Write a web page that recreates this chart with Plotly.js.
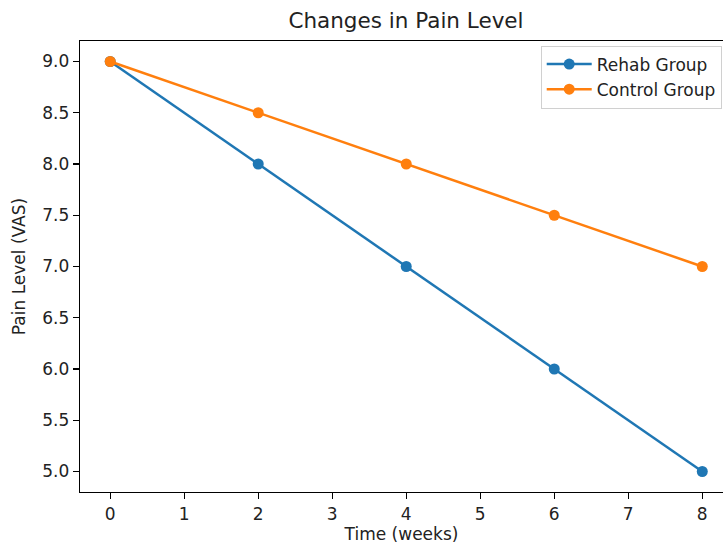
<!DOCTYPE html>
<html>
<head>
<meta charset="utf-8">
<script src="https://cdn.plot.ly/plotly-3.0.1.min.js"></script>
<style>html,body{margin:0;padding:0;background:#fff;}#chart{width:723px;height:544px;}</style>
</head>
<body>
<div id="chart"></div>
<script>
const weeks = [0, 2, 4, 6, 8];
const rehabGroup = [9.0, 8.0, 7.0, 6.0, 5.0];
const controlGroup = [9.0, 8.5, 8.0, 7.5, 7.0];
const xTicks = [0, 1, 2, 3, 4, 5, 6, 7, 8];
const yTicks = [5.0, 5.5, 6.0, 6.5, 7.0, 7.5, 8.0, 8.5, 9.0];

const font = {family: 'DejaVu Sans, sans-serif', size: 17, color: '#222'};

const traces = [
  {x: weeks, y: rehabGroup, name: 'Rehab Group', mode: 'lines+markers',
   line: {color: '#1f77b4', width: 2.5}, marker: {color: '#1f77b4', size: 11}},
  {x: weeks, y: controlGroup, name: 'Control Group', mode: 'lines+markers',
   line: {color: '#ff7f0e', width: 2.5}, marker: {color: '#ff7f0e', size: 11}}
];

const layout = {
  width: 723, height: 544,
  margin: {l: 80, r: 0, t: 41, b: 52},
  paper_bgcolor: '#fff', plot_bgcolor: '#fff',
  font: font,
  showlegend: true,
  title: {text: 'Changes in Pain Level', font: {family: 'DejaVu Sans, sans-serif', size: 21.5, color: '#222'},
          x: 0.507, xanchor: 'center', xref: 'paper', y: 0.963, yanchor: 'middle'},
  xaxis: {range: [-0.408, 8.28], tickvals: xTicks, ticktext: xTicks.map(String),
          showgrid: false, zeroline: false, showline: true, linecolor: '#000', linewidth: 1.3,
          mirror: true, ticks: 'outside', ticklen: 6, tickcolor: '#000', tickwidth: 1.3,
          title: {text: 'Time (weeks)', font: font, standoff: 10}},
  yaxis: {range: [4.8, 9.2], tickvals: yTicks, ticktext: yTicks.map(v => v.toFixed(1)),
          showgrid: false, zeroline: false, showline: true, linecolor: '#000', linewidth: 1.3,
          ticks: 'outside', ticklen: 6, tickcolor: '#000', tickwidth: 1.3,
          title: {text: 'Pain Level (VAS)', font: font, standoff: 12}},
  legend: {x: 0.998, y: 0.99, xanchor: 'right', yanchor: 'top', bgcolor: 'rgba(255,255,255,0.8)',
           bordercolor: '#d0d0d0', borderwidth: 1, font: font, itemwidth: 45}
};

Plotly.newPlot('chart', traces, layout, {displayModeBar: false, staticPlot: true});
</script>
</body>
</html>
